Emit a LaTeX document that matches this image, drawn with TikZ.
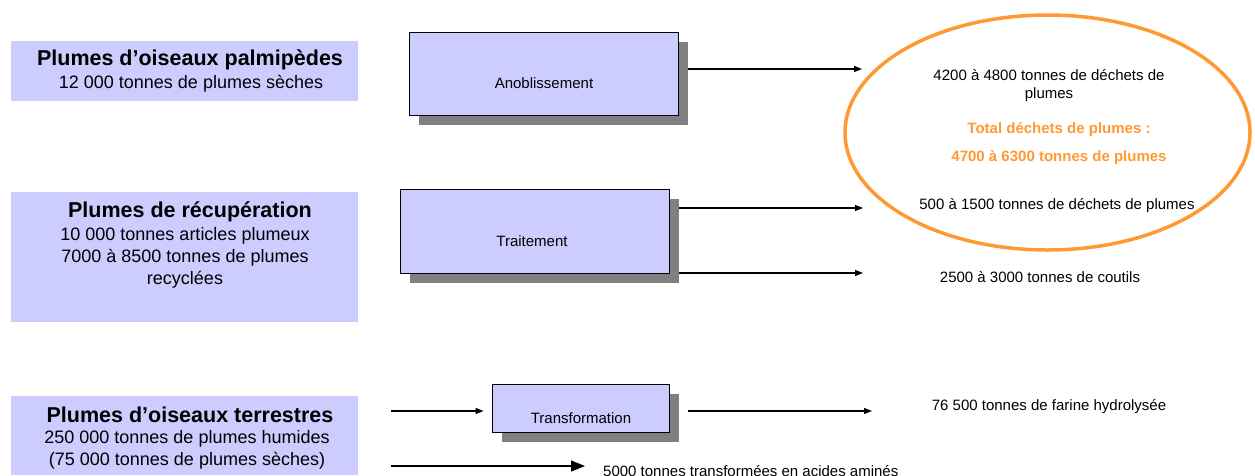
\documentclass[tikz,border=0pt]{standalone}
\usepackage{fontspec}
\setmainfont{Liberation Sans}
\usetikzlibrary{arrows.meta,shadows,shapes.geometric,calc}
\definecolor{boxfill}{RGB}{204,204,255}
\definecolor{shade}{RGB}{128,128,128}
\definecolor{total}{RGB}{255,153,51}

\begin{document}
\begin{tikzpicture}[x=1pt,y=-1pt,
  srcbox/.style={rectangle, fill=boxfill, inner sep=0pt, minimum width=347pt},
  stagebox/.style={rectangle, draw=black, line width=0.8pt, fill=boxfill, inner sep=0pt,
    drop shadow={shadow xshift=10pt, shadow yshift=-10pt, fill=shade, opacity=1}},
  head/.style={font=\fontsize{21.5}{24}\selectfont\bfseries, inner sep=0pt},
  body/.style={font=\fontsize{18}{22}\selectfont, inner sep=0pt, align=center},
  small/.style={font=\fontsize{15}{18}\selectfont, inner sep=0pt, align=center},
  tot/.style={font=\fontsize{15}{18}\selectfont\bfseries, inner sep=0pt, text=total},
  flow/.style={-{Triangle[length=8pt,width=6pt]}, line width=1.2pt},
  bigflow/.style={-{Triangle[length=14pt,width=11pt]}, line width=1.2pt},
]
\useasboundingbox (0,0) rectangle (1255,475);

% raw material sources
\node[srcbox, minimum height=60pt] (palm) at (184.5,71) {};
\node[head] (palmH) at (190,60) {Plumes d’oiseaux palmipèdes};
\node[body] (palmB) at (191,84) {12 000 tonnes de plumes sèches};

\node[srcbox, minimum height=130pt] (recup) at (184.5,257) {};
\node[head] (recupH) at (190,212) {Plumes de récupération};
\node[body] (recupB) at (185,258) {10 000 tonnes articles plumeux\\7000 à 8500 tonnes de plumes\\recyclées};

\node[srcbox, minimum height=79pt] (terr) at (184.5,435.5) {};
\node[head] (terrH) at (190,415) {Plumes d’oiseaux terrestres};
\node[body] (terrB) at (187,450) {250 000 tonnes de plumes humides\\(75 000 tonnes de plumes sèches)};

% processing stages
\node[stagebox, minimum width=269pt, minimum height=83pt] (anob) at (543.5,73.5) {};
\node[small] (anobT) at (544,83) {Anoblissement};
\node[stagebox, minimum width=269pt, minimum height=84pt] (trait) at (534.5,231) {};
\node[small] (traitT) at (532,241) {Traitement};
\node[stagebox, minimum width=177pt, minimum height=48pt] (transf) at (580.5,408) {};
\node[small] (transfT) at (581,418) {Transformation};

% total waste
\node[ellipse, draw=total, line width=3.5pt, minimum width=405pt, minimum height=235pt, inner sep=0pt] (waste) at (1047.5,132.5) {};
\node[small] (w1) at (1049,85.5) {4200 à 4800 tonnes de déchets de\\plumes};
\node[tot] (t1) at (1059,130) {Total déchets de plumes :};
\node[tot] (t2) at (1059,158) {4700 à 6300 tonnes de plumes};
\node[small] (w2) at (1057,206) {500 à 1500 tonnes de déchets de plumes};

% other outputs
\node[small] (cout) at (1040,277) {2500 à 3000 tonnes de coutils};
\node[small] (farine) at (1049,407) {76 500 tonnes de farine hydrolysée};
\node[small, anchor=west] (amin) at (603,471) {5000 tonnes transformées en acides aminés};

% flows
\coordinate (e1) at (862,69);
\coordinate (e2) at (863,208);
\coordinate (e3) at (863,273);
\coordinate (e4) at (872,411);
\coordinate (in1) at (391,411);
\coordinate (in2) at (391,466);
\draw[flow] ($(anob.east |- e1)+(10,0)$) -- (e1);
\draw[flow] ($(trait.east |- e2)+(10,0)$) -- (e2);
\draw[flow] ($(trait.east |- e3)+(10,0)$) -- (e3);
\draw[flow] (in1) -- ($(transf.west |- in1)+(-8,0)$);
\draw[flow] ($(transf.east |- e4)+(19,0)$) -- (e4);
\draw[bigflow] (in2) -- ($(amin.west |- in2)+(-18,0)$);
\end{tikzpicture}
\end{document}
